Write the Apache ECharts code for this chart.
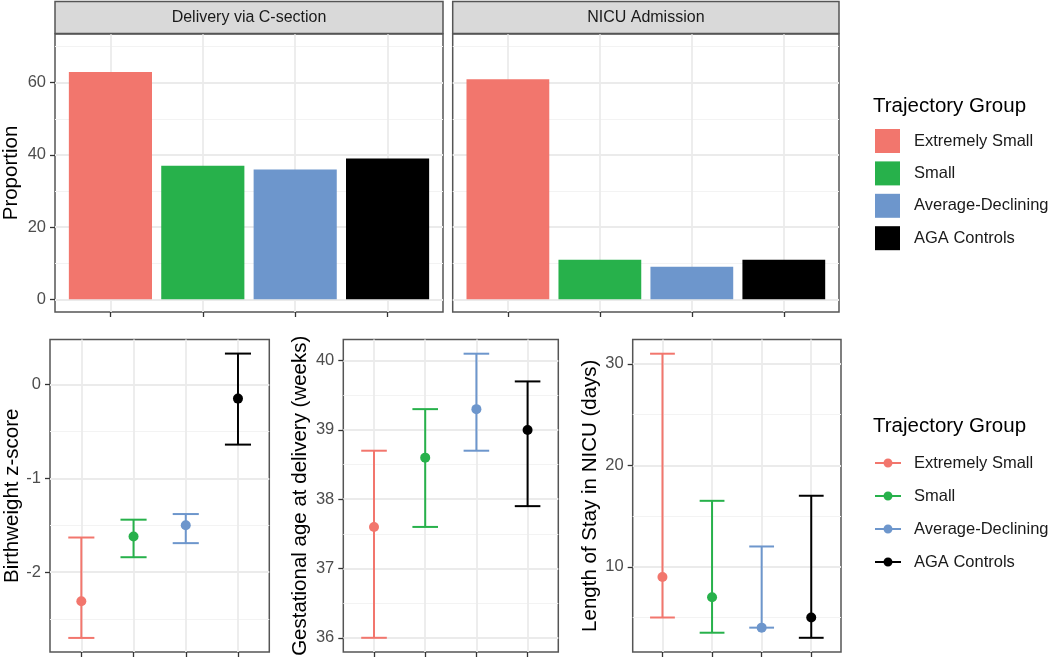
<!DOCTYPE html>
<html><head><meta charset="utf-8">
<script src="https://cdn.jsdelivr.net/npm/echarts@6/dist/echarts.min.js"></script>
<style>html,body{margin:0;padding:0;background:#fff}#c{width:1050px;height:660px}</style>
</head><body><div id="c"></div>
<script>
// ---- data ----
const groups = ['Extremely Small', 'Small', 'Average-Declining', 'AGA Controls'];
const groupColors = ['#F2766D', '#27B14B', '#6D96CC', '#000000'];
const xPos = [1, 2, 3, 4];
const facetLabels = ['Delivery via C-section', 'NICU Admission'];
const csectionPct = [63, 37, 36, 39];
const nicuAdmitPct = [61, 11, 9, 11];
const bwMean = [-2.31, -1.62, -1.50, -0.15];
const bwLow = [-2.70, -1.84, -1.69, -0.64];
const bwHigh = [-1.63, -1.44, -1.38, 0.33];
const gaMean = [37.6, 38.6, 39.3, 39.0];
const gaLow = [36.0, 37.6, 38.7, 37.9];
const gaHigh = [38.7, 39.3, 40.1, 39.7];
const losMean = [9, 7, 4, 5];
const losLow = [5, 3.5, 4, 3];
const losHigh = [31, 16.5, 12, 17];
const propTicks = [0, 20, 40, 60];
const propMinor = [10, 30, 50, 70];
const bwTicks = [-2, -1, 0];
const bwMinor = [-2.5, -1.5, -0.5];
const gaTicks = [36, 37, 38, 39, 40];
const gaMinor = [36.5, 37.5, 38.5, 39.5];
const losTicks = [10, 20, 30];
const losMinor = [5, 15, 25];
const legendTitle = 'Trajectory Group';
const yTitles = ['Proportion', 'Birthweight z-score', 'Gestational age at delivery (weeks)', 'Length of Stay in NICU (days)'];

// ---- layout/style ----
const FONT = '"Liberation Sans", Arial, sans-serif';
const BORDER = '#555555';
const GRID_MAJOR = '#ebebeb';
const GRID_MINOR = '#f3f3f3';
const grids = [
  {left: 55, top: 34, width: 388, height: 278},
  {left: 452.7, top: 34, width: 386.3, height: 278},
  {left: 50, top: 339.5, width: 219.3, height: 312.5},
  {left: 343.3, top: 339.5, width: 215, height: 312.5},
  {left: 632.7, top: 339.5, width: 208.3, height: 312.5}
].map(g => Object.assign({show: true, borderColor: BORDER, borderWidth: 1.5, backgroundColor: '#fff', outerBoundsMode: 'none', containLabel: false}, g));

const yCfg = [
  {min: -3.5, max: 73.5, ticks: propTicks, minor: propMinor, labels: true, name: yTitles[0], gap: 33},
  {min: -3.5, max: 73.5, ticks: propTicks, minor: propMinor, labels: false, name: '', gap: 0},
  {min: -2.85, max: 0.48, ticks: bwTicks, minor: bwMinor, labels: true, name: yTitles[1], gap: 27},
  {min: 35.795, max: 40.305, ticks: gaTicks, minor: gaMinor, labels: true, name: yTitles[2], gap: 32},
  {min: 1.6, max: 32.4, ticks: losTicks, minor: losMinor, labels: true, name: yTitles[3], gap: 32}
];

const xAxes = grids.map((g, i) => ({
  type: 'value', gridIndex: i, min: 0.4, max: 4.6, position: 'bottom',
  axisLine: {show: false, onZero: false},
  axisTick: {show: true, length: 5, customValues: xPos, lineStyle: {color: '#333', width: 1.3}},
  axisLabel: {show: false, customValues: xPos},
  splitLine: {show: true, lineStyle: {color: GRID_MAJOR, width: 1.8}}
}));

const yMajor = yCfg.map((c, i) => ({
  type: 'value', gridIndex: i, min: c.min, max: c.max, position: 'left',
  axisLine: {show: false, onZero: false},
  axisTick: {show: c.labels, length: 5, customValues: c.ticks, lineStyle: {color: '#333', width: 1.3}},
  axisLabel: {show: c.labels, customValues: c.ticks, color: '#4d4d4d', fontSize: 16.5, fontFamily: FONT, margin: 9},
  splitLine: {show: true, lineStyle: {color: GRID_MAJOR, width: 1.8}},
  name: c.name, nameLocation: 'middle', nameGap: c.gap, nameRotate: 90, nameMoveOverlap: false,
  nameTextStyle: {fontSize: 20.5, color: '#000', fontFamily: FONT}
}));
const yMinor = yCfg.map((c, i) => ({
  type: 'value', gridIndex: i, min: c.min, max: c.max, position: 'left',
  axisLine: {show: false, onZero: false},
  axisTick: {show: false, customValues: c.minor},
  axisLabel: {show: false, customValues: c.minor},
  splitLine: {show: true, lineStyle: {color: GRID_MINOR, width: 1}}
}));

const BAR_W = 0.9, CAP_W = 0.5;
function barRender(params, api) {
  const x = api.value(0), v = api.value(1);
  const w = api.size([BAR_W, 0])[0];
  const top = api.coord([x, v]), base = api.coord([x, 0]);
  return {type: 'rect', shape: {x: top[0] - w / 2, y: top[1], width: w, height: base[1] - top[1]},
    style: {fill: api.visual('color')}};
}
function errRender(params, api) {
  const x = api.value(0), lo = api.value(1), hi = api.value(2), m = api.value(3);
  const pHi = api.coord([x, hi]), pLo = api.coord([x, lo]), pM = api.coord([x, m]);
  const half = api.size([CAP_W, 0])[0] / 2;
  const col = api.visual('color');
  const ls = {stroke: col, lineWidth: 2, fill: null};
  return {type: 'group', children: [
    {type: 'line', shape: {x1: pHi[0], y1: pHi[1], x2: pLo[0], y2: pLo[1]}, style: ls},
    {type: 'line', shape: {x1: pHi[0] - half, y1: pHi[1], x2: pHi[0] + half, y2: pHi[1]}, style: ls},
    {type: 'line', shape: {x1: pLo[0] - half, y1: pLo[1], x2: pLo[0] + half, y2: pLo[1]}, style: ls},
    {type: 'circle', shape: {cx: pM[0], cy: pM[1], r: 5}, style: {fill: col, stroke: null}}
  ]};
}

const series = [];
[csectionPct, nicuAdmitPct].forEach((vals, p) => {
  groups.forEach((g, k) => series.push({
    type: 'custom', name: g, xAxisIndex: p, yAxisIndex: p,
    itemStyle: {color: groupColors[k]}, renderItem: barRender, z: 3,
    data: [[xPos[k], vals[k]]]
  }));
});
[[bwLow, bwHigh, bwMean], [gaLow, gaHigh, gaMean], [losLow, losHigh, losMean]].forEach((arr, p) => {
  groups.forEach((g, k) => series.push({
    type: 'custom', name: g, xAxisIndex: 2 + p, yAxisIndex: 2 + p,
    itemStyle: {color: groupColors[k]}, renderItem: errRender, z: 3,
    data: [[xPos[k], arr[0][k], arr[1][k], arr[2][k]]]
  }));
});

// line-with-dot legend key: 26 x 9 box (line + circle drawn with cubic curves)
const lineDotIcon = 'path://M0,3.6h26v1.8h-26z M17.5,4.5C17.5,6.99 15.49,9 13,9C10.51,9 8.5,6.99 8.5,4.5C8.5,2.01 10.51,0 13,0C15.49,0 17.5,2.01 17.5,4.5z';

const graphics = [];
facetLabels.forEach((lab, i) => {
  const g = grids[i];
  graphics.push({type: 'rect', shape: {x: g.left, y: 1.5, width: g.width, height: 32},
    style: {fill: '#d9d9d9', stroke: BORDER, lineWidth: 1.5}, z: 10});
  graphics.push({type: 'text', x: g.left + g.width / 2, y: 17.5,
    style: {text: lab, fill: '#1a1a1a', font: '16px ' + FONT, textAlign: 'center', textVerticalAlign: 'middle'}, z: 11});
});

const chart = echarts.init(document.getElementById('c'), null, {renderer: 'canvas'});
chart.setOption({
  animation: false,
  backgroundColor: '#fff',
  textStyle: {fontFamily: FONT},
  grid: grids,
  xAxis: xAxes,
  yAxis: yMajor.concat(yMinor),
  title: [
    {text: legendTitle, left: 873, top: 96, padding: 0, textStyle: {fontSize: 20.5, fontWeight: 'normal', color: '#000', fontFamily: FONT}},
    {text: legendTitle, left: 873, top: 416, padding: 0, textStyle: {fontSize: 20.5, fontWeight: 'normal', color: '#000', fontFamily: FONT}}
  ],
  legend: [
    {data: groups, orient: 'vertical', left: 875, top: 129, padding: 0, itemWidth: 25, itemHeight: 24, itemGap: 8.4,
      icon: 'rect', selectedMode: false,
      textStyle: {fontSize: 16.5, color: '#1a1a1a', fontFamily: FONT, padding: [0, 0, 0, 9]}},
    {data: groups, orient: 'vertical', left: 875, top: 454.5, padding: 0, itemWidth: 26, itemHeight: 9, itemGap: 16,
      icon: lineDotIcon, selectedMode: false,
      textStyle: {fontSize: 16.5, color: '#1a1a1a', fontFamily: FONT, padding: [0, 0, 0, 8]}}
  ],
  graphic: graphics,
  series: series
});
</script></body></html>
